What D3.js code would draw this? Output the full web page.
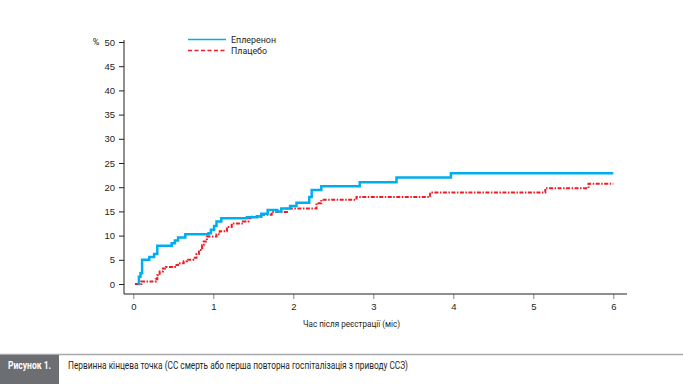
<!DOCTYPE html>
<html>
<head>
<meta charset="utf-8">
<script src="https://cdn.jsdelivr.net/npm/d3@7"></script>
<style>
  body { margin: 0; background: #fff; }
  svg { display: block; font-family: "Roboto", "Noto Sans", sans-serif; }
</style>
</head>
<body>
<svg id="chart" width="683" height="384"></svg>
<script>
// step points: [time in months, cumulative %]
const eplerenone = [
  [0.06, 0], [0.07, 1.5], [0.09, 2.2], [0.11, 5.0], [0.2, 5.6], [0.26, 6.2],
  [0.3, 7.9], [0.48, 8.4], [0.52, 9.0], [0.56, 9.6], [0.65, 10.3], [0.94, 10.5],
  [0.97, 11.2], [1.01, 12.0], [1.04, 12.9], [1.1, 13.6], [1.42, 13.8], [1.55, 14.0],
  [1.6, 14.5], [1.68, 15.3], [1.8, 15.0], [1.85, 15.6], [1.96, 16.1], [2.04, 16.8],
  [2.2, 18.0], [2.23, 19.4], [2.35, 20.2], [2.83, 21.0], [3.29, 22.0], [3.97, 22.9],
  [6.0, 22.9]
];
const placebo = [
  [0.02, 0], [0.1, 0.5], [0.28, 1.0], [0.3, 1.8], [0.33, 2.6], [0.37, 3.2],
  [0.41, 3.5], [0.52, 3.9], [0.56, 4.3], [0.63, 4.7], [0.67, 5.0], [0.75, 5.4],
  [0.79, 6.2], [0.82, 7.0], [0.86, 8.0], [0.88, 8.8], [0.92, 9.8], [1.04, 10.3],
  [1.08, 10.9], [1.17, 11.8], [1.23, 12.5], [1.37, 12.9], [1.44, 13.6], [1.48, 13.9],
  [1.6, 14.3], [1.73, 14.9], [1.92, 15.6], [2.29, 16.7], [2.35, 17.4], [2.79, 18.0],
  [3.71, 18.9], [5.15, 19.8], [5.69, 20.7], [6.0, 20.7]
];
const xTicks = [0, 1, 2, 3, 4, 5, 6];
const yTicks = [0, 5, 10, 15, 20, 25, 30, 35, 40, 45, 50];
const seriesNames = ["Еплеренон", "Плацебо"];
const xTitle = "Час після реєстрації (міс)";
const figLabel = "Рисунок 1.";
const caption = "Первинна кінцева точка (СС смерть або перша повторна госпіталізація з приводу ССЗ)";

const svg = d3.select("#chart");
const W = 683, H = 384;
const blue = "#00aeef", red = "#ee1c25", ink = "#231f20";

const x = d3.scaleLinear().domain([0, 6]).range([133.3, 613.3]);
const y = d3.scaleLinear().domain([0, 50]).range([284, 42]);
const axisLeftX = 124, axisBottomY = 294;

// x axis
const gx = svg.append("g").attr("transform", `translate(0,${axisBottomY})`)
  .call(d3.axisBottom(x).tickValues(xTicks).tickFormat(d3.format("d"))
    .tickSize(5).tickPadding(4).tickSizeOuter(0));
gx.select(".domain").remove();
gx.selectAll(".tick line").attr("stroke", "#888");
gx.selectAll(".tick text").attr("font-size", 9.5).attr("fill", ink).attr("font-family", null);
svg.append("line").attr("x1", axisLeftX).attr("x2", 627)
  .attr("y1", axisBottomY).attr("y2", axisBottomY).attr("stroke", ink).attr("stroke-width", 1);

// y axis
const gy = svg.append("g").attr("transform", `translate(${axisLeftX},0)`)
  .call(d3.axisLeft(y).tickValues(yTicks).tickSize(5).tickPadding(4).tickSizeOuter(0));
gy.select(".domain").remove();
gy.selectAll(".tick line").attr("stroke", ink);
gy.selectAll(".tick text").attr("font-size", 9.5).attr("fill", ink).attr("font-family", null);
svg.append("line").attr("x1", axisLeftX).attr("x2", axisLeftX)
  .attr("y1", 40).attr("y2", axisBottomY).attr("stroke", ink).attr("stroke-width", 1);
svg.append("text").attr("x", 96).attr("y", y(50)).attr("dy", "0.35em")
  .attr("text-anchor", "middle").attr("font-size", 9).attr("fill", ink).text("%");

svg.append("text").attr("x", 303).attr("y", 327)
  .attr("font-size", 9).attr("fill", ink)
  .attr("textLength", 97).attr("lengthAdjust", "spacingAndGlyphs").text(xTitle);

// lines
const line = d3.line().x(d => x(d[0])).y(d => y(d[1])).curve(d3.curveStepAfter);
svg.append("path").datum(placebo).attr("d", line).attr("fill", "none")
  .attr("stroke", red).attr("stroke-width", 2).attr("stroke-dasharray", "4,1.5,1.5,1.5");
svg.append("path").datum(eplerenone).attr("d", line).attr("fill", "none")
  .attr("stroke", blue).attr("stroke-width", 2.5);

// legend
const legend = svg.append("g");
[[blue, null, 39.5, 45], [red, "4,2.5", 50.5, 36]].forEach(([c, dash, ly, tl], i) => {
  legend.append("line").attr("x1", 188).attr("x2", 226).attr("y1", ly).attr("y2", ly)
    .attr("stroke", c).attr("stroke-width", 1.5).attr("stroke-dasharray", dash);
  legend.append("text").attr("x", 231).attr("y", ly).attr("dy", "0.35em")
    .attr("font-size", 9).attr("fill", ink)
    .attr("textLength", tl).attr("lengthAdjust", "spacingAndGlyphs").text(seriesNames[i]);
});

// caption
svg.append("line").attr("x1", 0).attr("x2", W).attr("y1", 354.5).attr("y2", 354.5)
  .attr("stroke", "#a7a9ac").attr("stroke-width", 1.5);
svg.append("rect").attr("x", 0).attr("y", 355).attr("width", 59).attr("height", H - 355)
  .attr("fill", "#6d6e71");
svg.append("text").attr("x", 8).attr("y", 369)
  .attr("font-size", 10).attr("font-weight", "bold").attr("fill", "#fff")
  .attr("textLength", 43).attr("lengthAdjust", "spacingAndGlyphs").text(figLabel);
svg.append("text").attr("x", 68).attr("y", 369)
  .attr("font-size", 10.5).attr("fill", ink)
  .attr("textLength", 340).attr("lengthAdjust", "spacingAndGlyphs").text(caption);
</script>
</body>
</html>
